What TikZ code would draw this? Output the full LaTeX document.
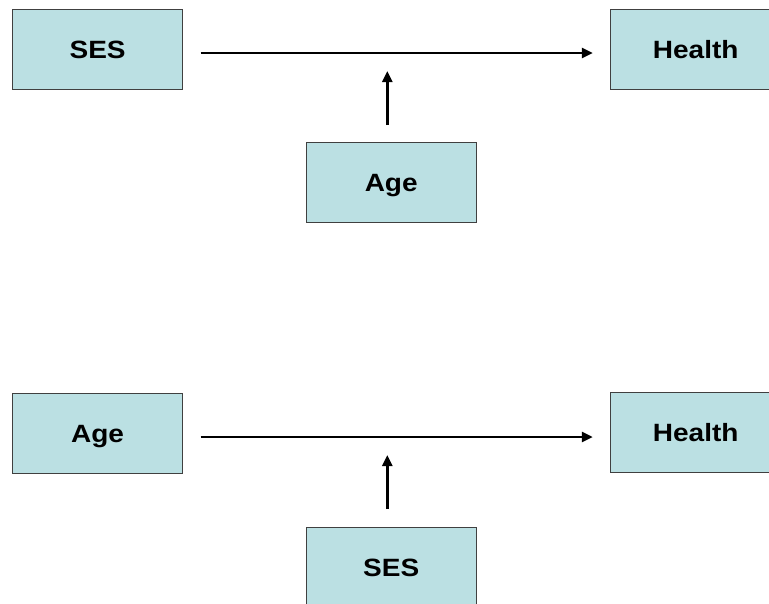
\documentclass[tikz,border=0pt]{standalone}
\usepackage{fontspec}
\setmainfont{Liberation Sans}
\usetikzlibrary{arrows.meta}
\definecolor{boxfill}{HTML}{BBE0E3}
\definecolor{boxline}{HTML}{404040}
\tikzset{
  box/.style={draw=boxline, line width=0.9pt, fill=boxfill, minimum width=170pt, minimum height=80pt, inner sep=0pt, font=\fontsize{25}{29}\selectfont\bfseries},
  conn/.style={line width=2.6pt, -{Triangle[length=11pt,width=10pt]}}
}
\newcommand{\lbl}[1]{\scalebox{1.12}[1]{#1}}
\begin{document}
\begin{tikzpicture}[x=1pt,y=-1pt]
\useasboundingbox (0,0) rectangle (769,603);
% top
\node[box] (ses1) at (97.6,49) {};
\node[box] (health1) at (695.7,49.3) {};
\node[box] (age1) at (391.2,182.5) {};
\node[font=\fontsize{25}{29}\selectfont\bfseries, anchor=base] (t1) at ([yshift=-9pt]ses1.center) {\lbl{SES}};
\node[font=\fontsize{25}{29}\selectfont\bfseries, anchor=base] (t2) at ([yshift=-9pt]health1.center) {\lbl{Health}};
\node[font=\fontsize{25}{29}\selectfont\bfseries, anchor=base] (t3) at ([yshift=-9pt]age1.center) {\lbl{Age}};
\coordinate (m1) at (387.3,53);
\coordinate (s1) at (387.3,142.5);
\draw[conn, shorten <=17.5pt, shorten >=17.5pt] (ses1.east |- m1) -- (health1.west |- m1);
\draw[conn, shorten <=17.5pt, shorten >=18pt] (s1) -- (m1);
% bottom
\node[box] (age2) at (97.6,433) {};
\node[box] (health2) at (695.7,432.7) {};
\node[box] (ses2) at (391.2,567) {};
\node[font=\fontsize{25}{29}\selectfont\bfseries, anchor=base] (t4) at ([yshift=-9pt]age2.center) {\lbl{Age}};
\node[font=\fontsize{25}{29}\selectfont\bfseries, anchor=base] (t5) at ([yshift=-9pt]health2.center) {\lbl{Health}};
\node[font=\fontsize{25}{29}\selectfont\bfseries, anchor=base] (t6) at ([yshift=-9pt]ses2.center) {\lbl{SES}};
\coordinate (m2) at (387.3,437);
\coordinate (s2) at (387.3,527);
\draw[conn, shorten <=17.5pt, shorten >=17.5pt] (age2.east |- m2) -- (health2.west |- m2);
\draw[conn, shorten <=18pt, shorten >=18pt] (s2) -- (m2);
\end{tikzpicture}
\end{document}
